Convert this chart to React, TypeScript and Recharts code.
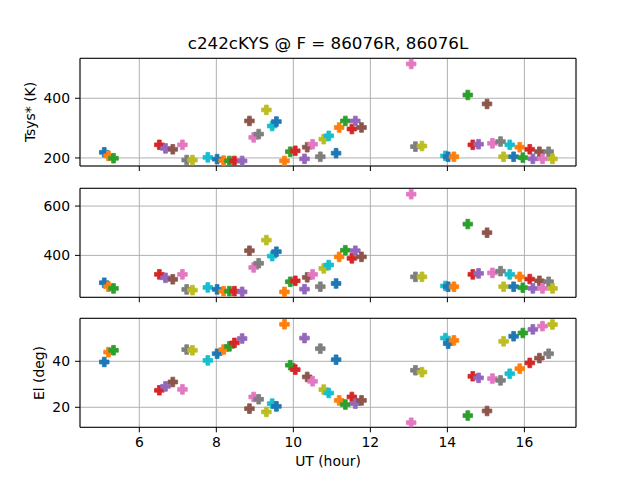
import React from 'react';
import { ScatterChart, Scatter, XAxis, YAxis, CartesianGrid, Cell, ReferenceArea, Label } from 'recharts';

// one entry per scan, in time order
const scanTimes = [
  5.09, 5.2, 5.33, 6.52, 6.68, 6.87, 7.12, 7.23, 7.38, 7.78,
  8.02, 8.19, 8.34, 8.47, 8.67, 8.86, 8.97, 9.1, 9.3, 9.45,
  9.56, 9.77, 9.92, 10.05, 10.29, 10.36, 10.5, 10.7, 10.79, 10.92,
  11.11, 11.19, 11.35, 11.52, 11.61, 11.77, 13.06, 13.17, 13.34, 13.95,
  14.02, 14.17, 14.53, 14.66, 14.81, 15.03, 15.17, 15.38, 15.46, 15.62,
  15.72, 15.88, 15.96, 16.14, 16.22, 16.39, 16.47, 16.63, 16.73,
];

const tsysR = [
  219, 207, 199, 244, 232, 229, 244, 193, 193, 202,
  196, 191, 190, 190, 190, 324, 269, 280, 361, 307,
  322, 190, 221, 224, 197, 236, 246, 204, 263, 274,
  216, 302, 324, 297, 324, 302, 515, 238, 240, 207,
  204, 204, 411, 244, 246, 381, 249, 255, 204, 244,
  204, 236, 201, 229, 197, 221, 197, 221, 197,
];

const tsysL = [
  289, 273, 266, 323, 309, 303, 323, 262, 259, 270,
  262, 255, 255, 255, 252, 419, 351, 368, 462, 397,
  415, 252, 293, 297, 263, 311, 323, 273, 347, 361,
  286, 394, 421, 388, 419, 394, 648, 313, 313, 276,
  273, 273, 527, 323, 327, 492, 329, 336, 273, 323,
  273, 313, 269, 304, 266, 297, 266, 293, 266,
];

const elevation = [
  39.7, 44.0, 44.8, 27.4, 29.1, 31.0, 27.8, 45.1, 44.8, 40.4,
  43.3, 45.1, 46.5, 48.0, 49.9, 19.4, 24.5, 23.5, 18.0, 21.6,
  20.4, 56.1, 38.3, 36.4, 50.1, 33.2, 31.3, 45.5, 27.7, 26.2,
  40.7, 23.0, 21.2, 24.5, 21.6, 23.0, 13.3, 36.1, 35.3, 50.1,
  47.7, 49.1, 16.4, 33.5, 32.8, 18.4, 32.5, 31.7, 48.7, 34.6,
  50.9, 36.8, 52.3, 39.3, 53.9, 41.4, 55.3, 43.3, 56.0,
];

const xTicks = [6, 8, 10, 12, 14, 16];
const tsysRTicks = [200, 400];
const tsysLTicks = [400, 600];
const elTicks = [20, 40];

const TAB10 = ['#1f77b4', '#ff7f0e', '#2ca02c', '#d62728', '#9467bd', '#8c564b', '#e377c2', '#7f7f7f', '#bcbd22', '#17becf'];
const X_DOMAIN: [number, number] = [4.46, 17.34];
const FONT = '"DejaVu Sans", sans-serif';
const X_AXIS_H = 1;

const PlusMarker = (props: any) => {
  const { cx, cy, fill } = props;
  if (cx == null || cy == null) return null;
  const a = 4.8;
  const h = 1.9;
  const d = `M${cx - h},${cy - a}h${2 * h}v${a - h}h${a - h}v${2 * h}h${-(a - h)}v${a - h}h${-2 * h}v${-(a - h)}h${-(a - h)}v${-2 * h}h${a - h}z`;
  return <path d={d} fill={fill} stroke={fill} strokeWidth={0.8} strokeLinejoin="miter" />;
};

type PanelProps = {
  values: number[];
  yDomain: [number, number];
  yTicks: number[];
  top: number;
  bottom: number;
  showX?: boolean;
};

function Panel({ values, yDomain, yTicks, top, bottom, showX }: PanelProps) {
  const data = scanTimes.map((t, i) => ({ t, v: values[i] }));
  return (
    <div style={{ position: 'absolute', left: 0, top: 0 }}>
      <ScatterChart width={640} height={480} margin={{ top, right: 64, bottom: 480 - bottom - X_AXIS_H, left: 20 }}>
        <CartesianGrid stroke="#b0b0b0" strokeWidth={1} />
        <XAxis
          type="number"
          dataKey="t"
          domain={X_DOMAIN}
          ticks={xTicks}
          allowDataOverflow
          height={X_AXIS_H}
          axisLine={false}
          tickLine={{ stroke: '#000' }}
          tickSize={5}
          tickMargin={5}
          tick={showX ? { fill: '#000', fontSize: 13.9, fontFamily: FONT } : () => <g />}
        >
          {showX && <Label value="UT (hour)" position="bottom" offset={28} fill="#000" fontSize={13.9} fontFamily={FONT} />}
        </XAxis>
        <YAxis
          type="number"
          dataKey="v"
          domain={yDomain}
          ticks={yTicks}
          allowDataOverflow
          width={60}
          axisLine={false}
          tickLine={{ stroke: '#000' }}
          tickSize={5}
          tickMargin={5}
          tick={{ fill: '#000', fontSize: 13.9, fontFamily: FONT }}
        />
        <ReferenceArea x1={X_DOMAIN[0]} x2={X_DOMAIN[1]} y1={yDomain[0]} y2={yDomain[1]} fill="none" stroke="#000" strokeWidth={1} ifOverflow="visible" />
        <Scatter data={data} shape={PlusMarker} isAnimationActive={false}>
          {data.map((_, i) => (
            <Cell key={i} fill={TAB10[i % 10]} />
          ))}
        </Scatter>
      </ScatterChart>
    </div>
  );
}

export default function App() {
  return (
    <div style={{ position: 'absolute', left: 0, top: 0, width: 640, height: 480, background: '#fff', fontFamily: FONT, overflow: 'hidden' }}>
      <Panel values={tsysR} yDomain={[173, 534]} yTicks={tsysRTicks} top={58.3} bottom={166} />
      <Panel values={tsysL} yDomain={[230, 672]} yTicks={tsysLTicks} top={188.3} bottom={297.3} />
      <Panel values={elevation} yDomain={[11.3, 58.7]} yTicks={elTicks} top={318.3} bottom={427.3} showX />
      <div style={{ position: 'absolute', left: 0, width: 656, top: 33, textAlign: 'center', fontSize: 16.7, color: '#000', lineHeight: '20px' }}>
        c242cKYS @ F = 86076R, 86076L
      </div>
      <div style={{ position: 'absolute', left: 30, top: 112, transform: 'translate(-50%, -50%) rotate(-90deg)', fontSize: 13.9, whiteSpace: 'nowrap', color: '#000' }}>
        Tsys* (K)
      </div>
      <div style={{ position: 'absolute', left: 38.5, top: 373, transform: 'translate(-50%, -50%) rotate(-90deg)', fontSize: 13.9, whiteSpace: 'nowrap', color: '#000' }}>
        El (deg)
      </div>
    </div>
  );
}
